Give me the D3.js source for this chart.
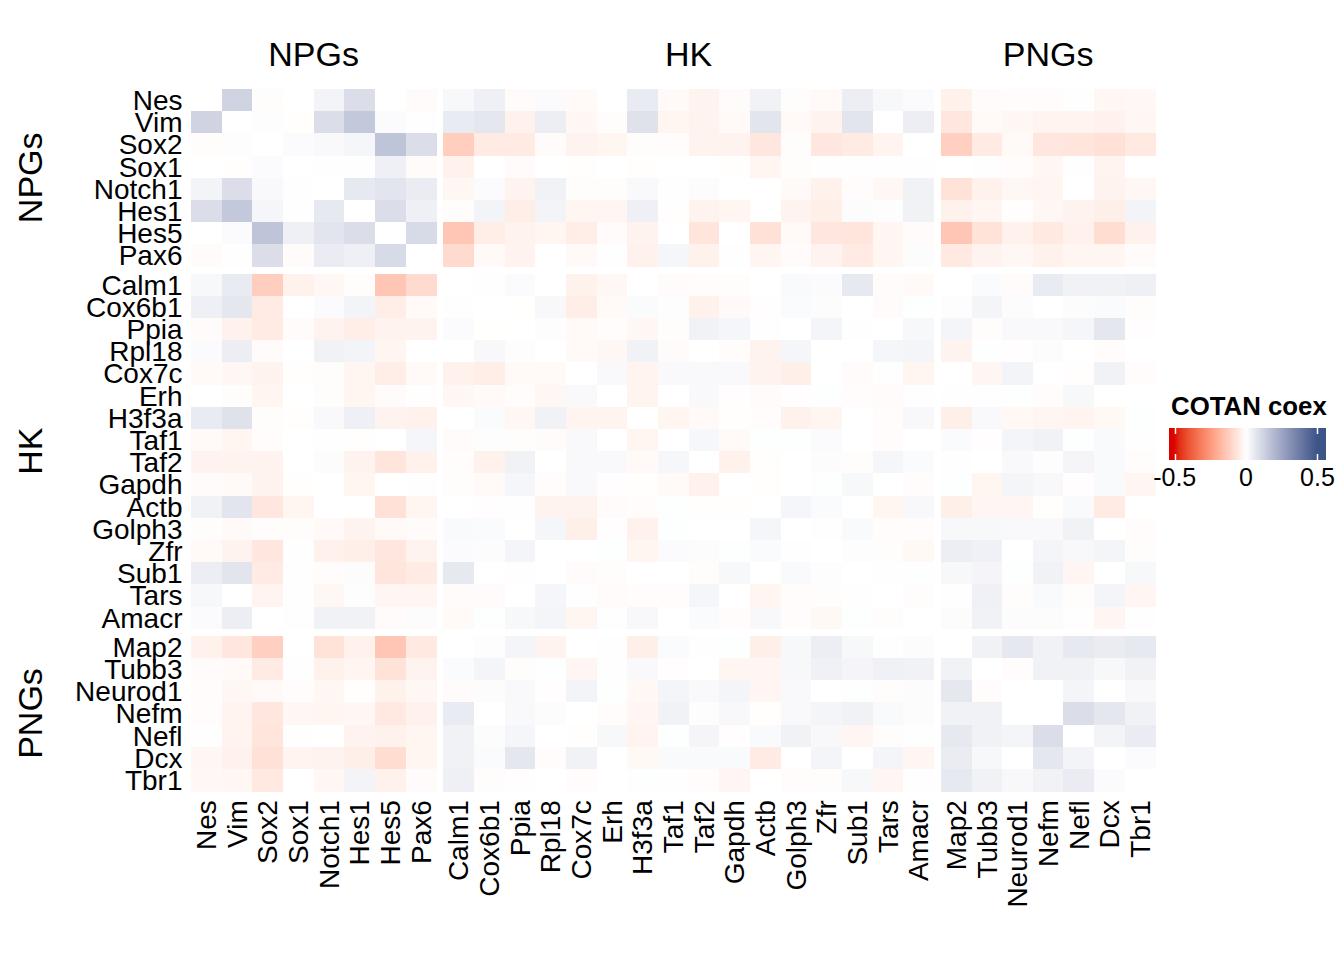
<!DOCTYPE html>
<html>
<head>
<meta charset="utf-8">
<script src="https://cdn.jsdelivr.net/npm/d3@7"></script>
<style>
  html, body { margin: 0; padding: 0; background: #ffffff; }
  svg { display: block; }
  text { font-family: "Liberation Sans", Arial, Helvetica, sans-serif; fill: #000; }
</style>
</head>
<body>
<svg id="chart" width="1344" height="960"></svg>
<script>
// ---------------- data ----------------
const groups = ["NPGs", "HK", "PNGs"];
const npgGenes = ["Nes", "Vim", "Sox2", "Sox1", "Notch1", "Hes1", "Hes5", "Pax6"];
const hkGenes = ["Calm1", "Cox6b1", "Ppia", "Rpl18", "Cox7c", "Erh", "H3f3a", "Taf1",
                 "Taf2", "Gapdh", "Actb", "Golph3", "Zfr", "Sub1", "Tars", "Amacr"];
const pngGenes = ["Map2", "Tubb3", "Neurod1", "Nefm", "Nefl", "Dcx", "Tbr1"];

// COTAN coex matrix (rows / columns in the order NPGs, HK, PNGs)
const coex = [
/* Nes    */ [0,.12,-.005,0,.03,.09,0,-.01,.02,.04,-.01,.01,-.015,0,.055,-.015,-.03,-.01,.035,-.005,-.015,.045,.02,.01,-.035,-.01,-.008,-.008,-.002,-.02,-.018],
/* Vim    */ [.12,0,.005,-.003,.09,.15,.01,.003,.055,.065,-.035,.045,-.02,-.005,.08,-.025,-.03,-.015,.07,-.015,-.03,.07,0,.045,-.06,-.012,-.02,-.027,-.028,-.032,-.02],
/* Sox2   */ [-.005,.005,0,.01,.015,.025,.16,.09,-.12,-.05,-.05,-.01,-.03,-.025,-.005,-.008,-.03,-.03,-.06,-.005,-.06,-.05,-.028,0,-.115,-.05,-.012,-.06,-.065,-.075,-.055],
/* Sox1   */ [0,-.003,.01,0,-.002,.003,.04,-.01,-.035,0,-.01,0,-.003,0,-.003,0,0,-.003,-.025,-.005,.002,-.002,.002,-.002,0,.003,-.008,-.02,-.002,-.028,0],
/* Notch1 */ [.03,.09,.015,-.002,0,.06,.07,.05,-.02,.01,-.03,.035,-.005,-.005,.015,.002,.008,0,0,-.012,-.035,-.008,-.02,.035,-.07,-.035,-.02,-.025,0,-.03,-.02],
/* Hes1   */ [.09,.15,.025,.003,.06,0,.09,.04,-.005,.03,-.045,.03,-.025,-.025,.04,-.003,-.03,-.025,0,-.03,-.04,.008,.005,.035,-.035,-.025,-.003,-.02,-.03,-.04,.03],
/* Hes5   */ [0,.01,.16,.04,.07,.09,0,.1,-.14,-.045,-.03,-.025,-.045,-.01,-.03,0,-.065,0,-.075,-.012,-.06,-.065,-.022,-.01,-.14,-.07,-.035,-.055,-.035,-.085,-.035],
/* Pax6   */ [-.01,.003,.09,-.01,.05,.04,.1,0,-.09,-.012,-.03,0,-.012,.002,-.035,.025,-.035,.002,-.025,-.01,-.03,-.05,-.025,.008,-.055,-.03,-.02,-.035,-.025,-.025,-.01],
/* Calm1  */ [.02,.055,-.12,-.035,-.02,-.005,-.14,-.09,0,.002,.01,0,-.035,-.02,0,-.01,-.008,-.006,0,.014,.01,.06,-.01,-.012,0,.012,-.01,.055,.035,.035,.04],
/* Cox6b1 */ [.04,.065,-.05,0,.01,.03,-.045,-.012,.002,0,-.001,.018,-.045,-.012,.012,.005,-.035,-.012,-.004,.012,.008,0,-.01,.004,.005,.028,.008,0,.008,.012,-.006],
/* Ppia   */ [-.01,-.035,-.05,-.01,-.03,-.045,-.03,-.03,.01,-.001,0,.005,-.012,-.008,-.02,-.006,.035,.025,.002,0,.028,.003,0,.02,.028,-.005,.015,.015,.025,.065,-.004],
/* Rpl18  */ [.01,.045,-.01,0,.035,.03,-.025,0,0,.018,.005,0,-.012,-.02,.035,-.01,0,-.007,-.03,.025,0,0,.025,.028,-.03,.004,-.004,.008,0,-.008,0],
/* Cox7c  */ [-.015,-.02,-.03,-.003,-.005,-.025,-.045,-.012,-.035,-.045,-.012,-.012,0,.015,-.028,.015,.015,.015,-.03,-.04,0,-.01,.002,-.025,0,-.022,.03,0,-.003,.035,-.008],
/* Erh    */ [0,-.005,-.025,0,-.005,-.025,-.01,.002,-.02,-.012,-.008,-.02,.015,0,-.027,0,.015,-.004,-.01,-.004,.004,-.008,-.01,-.002,.002,.002,.004,-.008,.02,0,0],
/* H3f3a  */ [.055,.08,-.005,-.003,.015,.04,-.03,-.035,0,.012,-.02,.035,-.028,-.027,0,-.025,-.014,-.003,-.008,-.035,-.025,0,-.008,.018,-.04,.016,-.018,-.022,-.027,-.016,.004],
/* Taf1   */ [-.015,-.025,-.008,0,.002,-.003,0,.025,-.01,.005,-.006,-.01,.015,0,-.025,0,.022,-.012,.004,.004,.01,0,-.008,0,.012,-.004,.028,.035,.004,.014,.003],
/* Taf2   */ [-.03,-.03,-.03,0,.008,-.03,-.065,-.035,-.008,-.035,.035,0,.015,.015,-.014,.022,0,-.035,-.003,0,.008,-.006,.025,.012,-.002,0,.015,.005,.026,.014,-.008],
/* Gapdh  */ [-.01,-.015,-.03,-.003,0,-.025,0,.002,-.006,-.012,.025,-.007,.015,-.004,-.003,-.012,-.035,0,-.003,0,.004,.02,0,-.008,.004,-.025,.028,.018,-.004,.014,-.022],
/* Actb   */ [.035,.07,-.06,-.025,0,0,-.075,-.025,0,-.004,.002,-.03,-.03,-.01,-.008,.004,-.003,-.003,0,.025,.012,0,-.025,.018,-.04,-.024,-.022,-.003,.014,-.05,0],
/* Golph3 */ [-.005,-.015,-.005,-.005,-.012,-.03,-.012,-.01,.014,.012,0,.025,-.04,-.004,-.035,.004,0,0,.025,0,.002,.014,-.008,-.008,.02,.02,.016,.016,.035,0,-.008],
/* Zfr    */ [-.015,-.03,-.06,.002,-.035,-.04,-.06,-.03,.01,.008,.028,0,0,.004,-.025,.01,.008,.004,.012,.002,0,.005,-.006,-.016,.045,.038,0,.028,.018,.028,-.006],
/* Sub1   */ [.045,.07,-.05,-.002,-.008,.008,-.065,-.05,.06,0,.003,0,-.01,-.008,0,0,-.006,.02,0,.014,.005,0,.002,.004,.02,.026,.004,.035,-.024,0,.02],
/* Tars   */ [.02,0,-.028,.002,-.02,.005,-.022,-.025,-.01,-.01,0,.025,.002,-.01,-.008,-.008,.025,0,-.025,-.008,-.006,.002,0,-.006,.003,.038,-.006,.014,-.006,.028,-.024],
/* Amacr  */ [.01,.045,0,-.002,.035,.035,-.01,.008,-.012,.004,.02,.028,-.025,-.002,.018,0,.012,-.008,.018,-.008,-.016,.004,-.006,0,.008,.035,.008,.008,.003,-.022,.002],
/* Map2   */ [-.035,-.06,-.115,0,-.07,-.035,-.14,-.055,0,.005,.028,-.03,0,.002,-.04,.012,-.002,.004,-.04,.02,.045,.02,.003,.008,0,.035,.062,.036,.06,.052,.06],
/* Tubb3  */ [-.01,-.012,-.05,.003,-.035,-.025,-.07,-.03,.012,.028,-.005,.004,-.022,.002,.016,-.004,0,-.025,-.024,.02,.038,.026,.038,.035,.035,0,-.008,.035,.035,.02,.035],
/* Neurod1*/ [-.008,-.02,-.012,-.008,-.02,-.003,-.035,-.02,-.01,.008,.015,-.004,.03,.004,-.018,.028,.015,.028,-.022,.016,0,.004,-.006,.008,.062,-.008,0,0,.028,0,.018],
/* Nefm   */ [-.008,-.027,-.06,-.02,-.025,-.02,-.055,-.035,.055,0,.015,.008,0,-.008,-.022,.035,.005,.018,-.003,.016,.028,.035,.014,.008,.036,.035,0,0,.09,.065,.035],
/* Nefl   */ [-.002,-.028,-.065,-.002,0,-.03,-.035,-.025,.035,.008,.025,0,-.003,.02,-.027,.004,.026,-.004,.014,.035,.018,-.024,-.006,.003,.06,.035,.028,.09,0,.03,.05],
/* Dcx    */ [-.02,-.032,-.075,-.028,-.03,-.04,-.085,-.025,.035,.012,.065,-.008,.035,0,-.016,.014,.014,.014,-.05,0,.028,0,.028,-.022,.052,.02,0,.065,.03,0,.01],
/* Tbr1   */ [-.018,-.02,-.055,0,-.02,.03,-.035,-.01,.04,-.006,-.004,0,-.008,0,.004,.003,-.008,-.022,0,-.008,-.006,.02,-.024,.002,.06,.035,.018,.035,.05,.01,0]
];

const legendTitle = "COTAN coex";
const legendTicks = [-0.5, 0, 0.5];
const legendTickLabels = ["-0.5", "0", "0.5"];

// ---------------- layout ----------------
const groupGenes = [npgGenes, hkGenes, pngGenes];
const genes = [].concat(...groupGenes);
const groupOf = {};
groupGenes.forEach((g, gi) => g.forEach(n => groupOf[n] = gi));

const bodyLeft = 191, bodyTop = 89;
const cellW = 30.66, cellH = 22.2, gapX = 7, gapY = 7;

const xBand = d3.scaleBand().domain(genes).range([bodyLeft, bodyLeft + genes.length * cellW]);
const yBand = d3.scaleBand().domain(genes).range([bodyTop, bodyTop + genes.length * cellH]);
const xPos = g => xBand(g) + groupOf[g] * gapX;
const yPos = g => yBand(g) + groupOf[g] * gapY;

const color = d3.scaleLinear()
  .domain([-0.5, 0, 0.5])
  .range(["#DC0000", "#FFFFFF", "#3C5488"])
  .interpolate(d3.interpolateLab)
  .clamp(true);

const svg = d3.select("#chart");
svg.append("rect").attr("width", 1344).attr("height", 960).attr("fill", "#fff");

// ---------------- cells ----------------
const cells = [];
genes.forEach((rg, ri) => genes.forEach((cg, ci) => cells.push({ r: rg, c: cg, v: coex[ri][ci] })));

svg.append("g").selectAll("rect").data(cells).join("rect")
  .attr("x", d => xPos(d.c))
  .attr("y", d => yPos(d.r))
  .attr("width", xBand.bandwidth() + 0.4)
  .attr("height", yBand.bandwidth() + 0.4)
  .attr("fill", d => color(d.v))
  .attr("shape-rendering", "crispEdges");

// ---------------- row labels ----------------
svg.append("g").selectAll("text").data(genes).join("text")
  .attr("x", 182.5)
  .attr("y", g => yPos(g) + yBand.bandwidth() / 2)
  .attr("dy", "0.35em")
  .attr("text-anchor", "end")
  .style("font-size", "28px")
  .text(g => g);

// ---------------- column labels ----------------
const bodyBottom = yPos(genes[genes.length - 1]) + yBand.bandwidth();
svg.append("g").selectAll("text").data(genes).join("text")
  .attr("transform", g => `translate(${xPos(g) + xBand.bandwidth() / 2},${bodyBottom + 9}) rotate(-90)`)
  .attr("dy", "0.35em")
  .attr("text-anchor", "end")
  .style("font-size", "28px")
  .text(g => g);

// ---------------- group titles ----------------
groupGenes.forEach((g, gi) => {
  const x0 = xPos(g[0]), x1 = xPos(g[g.length - 1]) + xBand.bandwidth();
  const y0 = yPos(g[0]), y1 = yPos(g[g.length - 1]) + yBand.bandwidth();
  svg.append("text")
    .attr("x", (x0 + x1) / 2).attr("y", 66)
    .attr("text-anchor", "middle")
    .style("font-size", "34px")
    .text(groups[gi]);
  svg.append("text")
    .attr("transform", `translate(42,${(y0 + y1) / 2}) rotate(-90)`)
    .attr("text-anchor", "middle")
    .style("font-size", "34px")
    .text(groups[gi]);
});

// ---------------- legend ----------------
const lgX = d3.scaleLinear().domain([-0.54, 0.56]).range([1169, 1326]);
const lgY = 428, lgH = 32;

const defs = svg.append("defs");
const grad = defs.append("linearGradient").attr("id", "lg")
  .attr("x1", "0%").attr("x2", "100%").attr("y1", "0%").attr("y2", "0%");
const stops = d3.range(0, 1.0001, 0.02);
grad.selectAll("stop").data(stops).join("stop")
  .attr("offset", t => (t * 100) + "%")
  .attr("stop-color", t => color(lgX.domain()[0] + t * (lgX.domain()[1] - lgX.domain()[0])));

svg.append("text")
  .attr("x", 1171).attr("y", 415)
  .style("font-size", "25.8px").style("font-weight", "bold")
  .text(legendTitle);

svg.append("rect")
  .attr("x", lgX.range()[0]).attr("y", lgY)
  .attr("width", lgX.range()[1] - lgX.range()[0]).attr("height", lgH)
  .attr("fill", "url(#lg)");

const tg = svg.append("g");
legendTicks.forEach(t => {
  const x = Math.round(lgX(t)) + 0.5;
  tg.append("line").attr("x1", x).attr("x2", x).attr("y1", lgY).attr("y2", lgY + 6)
    .attr("stroke", "#fff").attr("stroke-width", 1.5);
  tg.append("line").attr("x1", x).attr("x2", x).attr("y1", lgY + lgH - 6).attr("y2", lgY + lgH)
    .attr("stroke", "#fff").attr("stroke-width", 1.5);
});
svg.append("g").selectAll("text").data(legendTicks).join("text")
  .attr("x", t => lgX(t)).attr("y", 486)
  .attr("text-anchor", "middle")
  .style("font-size", "25px")
  .text((t, i) => legendTickLabels[i]);
</script>
</body>
</html>
